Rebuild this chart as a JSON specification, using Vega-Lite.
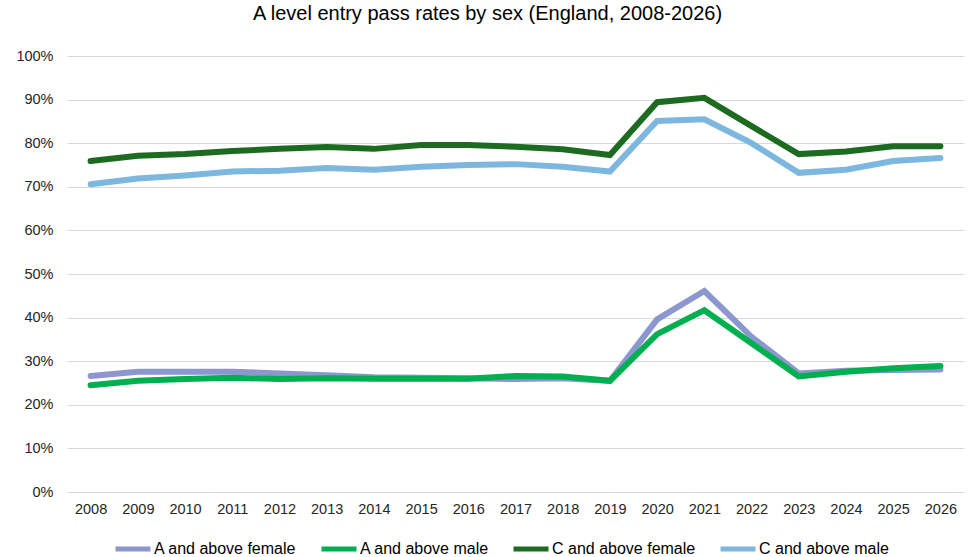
{
  "$schema": "https://vega.github.io/schema/vega-lite/v6.json",
  "width": 897,
  "height": 436,
  "autosize": {"type": "none"},
  "padding": {"left": 67, "top": 56, "right": 12, "bottom": 65},
  "background": "#ffffff",
  "view": {"stroke": null},
  "title": {
    "text": "A level entry pass rates by sex (England, 2008-2026)",
    "font": "Liberation Sans",
    "fontSize": 20,
    "fontWeight": "normal",
    "color": "#000000",
    "anchor": "middle",
    "dx": -28,
    "offset": 24
  },
  "data": {
    "values": [
      {"year": "2008", "series": "A and above female", "value": 26.6},
      {"year": "2009", "series": "A and above female", "value": 27.6},
      {"year": "2010", "series": "A and above female", "value": 27.6},
      {"year": "2011", "series": "A and above female", "value": 27.6},
      {"year": "2012", "series": "A and above female", "value": 27.2},
      {"year": "2013", "series": "A and above female", "value": 26.8},
      {"year": "2014", "series": "A and above female", "value": 26.3},
      {"year": "2015", "series": "A and above female", "value": 26.2},
      {"year": "2016", "series": "A and above female", "value": 26.1},
      {"year": "2017", "series": "A and above female", "value": 25.9},
      {"year": "2018", "series": "A and above female", "value": 26.1},
      {"year": "2019", "series": "A and above female", "value": 25.5},
      {"year": "2020", "series": "A and above female", "value": 39.6},
      {"year": "2021", "series": "A and above female", "value": 46.1},
      {"year": "2022", "series": "A and above female", "value": 35.6},
      {"year": "2023", "series": "A and above female", "value": 27.2},
      {"year": "2024", "series": "A and above female", "value": 27.8},
      {"year": "2025", "series": "A and above female", "value": 28.0},
      {"year": "2026", "series": "A and above female", "value": 28.1},
      {"year": "2008", "series": "A and above male", "value": 24.5},
      {"year": "2009", "series": "A and above male", "value": 25.5},
      {"year": "2010", "series": "A and above male", "value": 25.9},
      {"year": "2011", "series": "A and above male", "value": 26.2},
      {"year": "2012", "series": "A and above male", "value": 25.9},
      {"year": "2013", "series": "A and above male", "value": 26.1},
      {"year": "2014", "series": "A and above male", "value": 26.0},
      {"year": "2015", "series": "A and above male", "value": 26.0},
      {"year": "2016", "series": "A and above male", "value": 26.0},
      {"year": "2017", "series": "A and above male", "value": 26.6},
      {"year": "2018", "series": "A and above male", "value": 26.5},
      {"year": "2019", "series": "A and above male", "value": 25.5},
      {"year": "2020", "series": "A and above male", "value": 36.2},
      {"year": "2021", "series": "A and above male", "value": 41.7},
      {"year": "2022", "series": "A and above male", "value": 34.1},
      {"year": "2023", "series": "A and above male", "value": 26.5},
      {"year": "2024", "series": "A and above male", "value": 27.6},
      {"year": "2025", "series": "A and above male", "value": 28.4},
      {"year": "2026", "series": "A and above male", "value": 28.9},
      {"year": "2008", "series": "C and above female", "value": 75.9},
      {"year": "2009", "series": "C and above female", "value": 77.1},
      {"year": "2010", "series": "C and above female", "value": 77.5},
      {"year": "2011", "series": "C and above female", "value": 78.2},
      {"year": "2012", "series": "C and above female", "value": 78.7},
      {"year": "2013", "series": "C and above female", "value": 79.1},
      {"year": "2014", "series": "C and above female", "value": 78.7},
      {"year": "2015", "series": "C and above female", "value": 79.6},
      {"year": "2016", "series": "C and above female", "value": 79.6},
      {"year": "2017", "series": "C and above female", "value": 79.2},
      {"year": "2018", "series": "C and above female", "value": 78.6},
      {"year": "2019", "series": "C and above female", "value": 77.3},
      {"year": "2020", "series": "C and above female", "value": 89.4},
      {"year": "2021", "series": "C and above female", "value": 90.4},
      {"year": "2022", "series": "C and above female", "value": 83.9},
      {"year": "2023", "series": "C and above female", "value": 77.5},
      {"year": "2024", "series": "C and above female", "value": 78.1},
      {"year": "2025", "series": "C and above female", "value": 79.3},
      {"year": "2026", "series": "C and above female", "value": 79.3},
      {"year": "2008", "series": "C and above male", "value": 70.6},
      {"year": "2009", "series": "C and above male", "value": 71.9},
      {"year": "2010", "series": "C and above male", "value": 72.6},
      {"year": "2011", "series": "C and above male", "value": 73.5},
      {"year": "2012", "series": "C and above male", "value": 73.7},
      {"year": "2013", "series": "C and above male", "value": 74.3},
      {"year": "2014", "series": "C and above male", "value": 73.9},
      {"year": "2015", "series": "C and above male", "value": 74.6},
      {"year": "2016", "series": "C and above male", "value": 75.0},
      {"year": "2017", "series": "C and above male", "value": 75.2},
      {"year": "2018", "series": "C and above male", "value": 74.6},
      {"year": "2019", "series": "C and above male", "value": 73.5},
      {"year": "2020", "series": "C and above male", "value": 85.1},
      {"year": "2021", "series": "C and above male", "value": 85.5},
      {"year": "2022", "series": "C and above male", "value": 80.0},
      {"year": "2023", "series": "C and above male", "value": 73.2},
      {"year": "2024", "series": "C and above male", "value": 73.9},
      {"year": "2025", "series": "C and above male", "value": 75.9},
      {"year": "2026", "series": "C and above male", "value": 76.6}
    ]
  },
  "mark": {"type": "line", "strokeWidth": 6, "strokeCap": "round", "strokeJoin": "miter"},
  "encoding": {
    "x": {
      "field": "year",
      "type": "ordinal",
      "scale": {"type": "point", "padding": 0.5},
      "axis": {
        "title": null,
        "labelAngle": 0,
        "labelFont": "Liberation Sans",
        "labelFontSize": 14.5,
        "labelColor": "#262626",
        "labelPadding": 10,
        "ticks": false,
        "domain": false,
        "grid": false
      }
    },
    "y": {
      "field": "value",
      "type": "quantitative",
      "scale": {"domain": [0, 100], "nice": false},
      "axis": {
        "title": null,
        "values": [0, 10, 20, 30, 40, 50, 60, 70, 80, 90, 100],
        "labelExpr": "datum.value + '%'",
        "labelFont": "Liberation Sans",
        "labelFontSize": 14.5,
        "labelColor": "#262626",
        "labelPadding": 14,
        "ticks": false,
        "domain": false,
        "grid": true,
        "gridColor": "#d9d9d9",
        "gridWidth": 1
      }
    },
    "color": {
      "field": "series",
      "type": "nominal",
      "scale": {
        "domain": ["A and above female", "A and above male", "C and above female", "C and above male"],
        "range": ["#8b97ce", "#00b050", "#1c6b21", "#7db7e0"]
      },
      "legend": {
        "title": null,
        "orient": "none",
        "direction": "horizontal",
        "legendX": 46,
        "legendY": 473,
        "symbolType": "stroke",
        "symbolStrokeWidth": 5,
        "symbolSize": 1225,
        "labelFont": "Liberation Sans",
        "labelFontSize": 16,
        "labelColor": "#000000",
        "labelOffset": 1,
        "columnPadding": 14
      }
    }
  }
}
